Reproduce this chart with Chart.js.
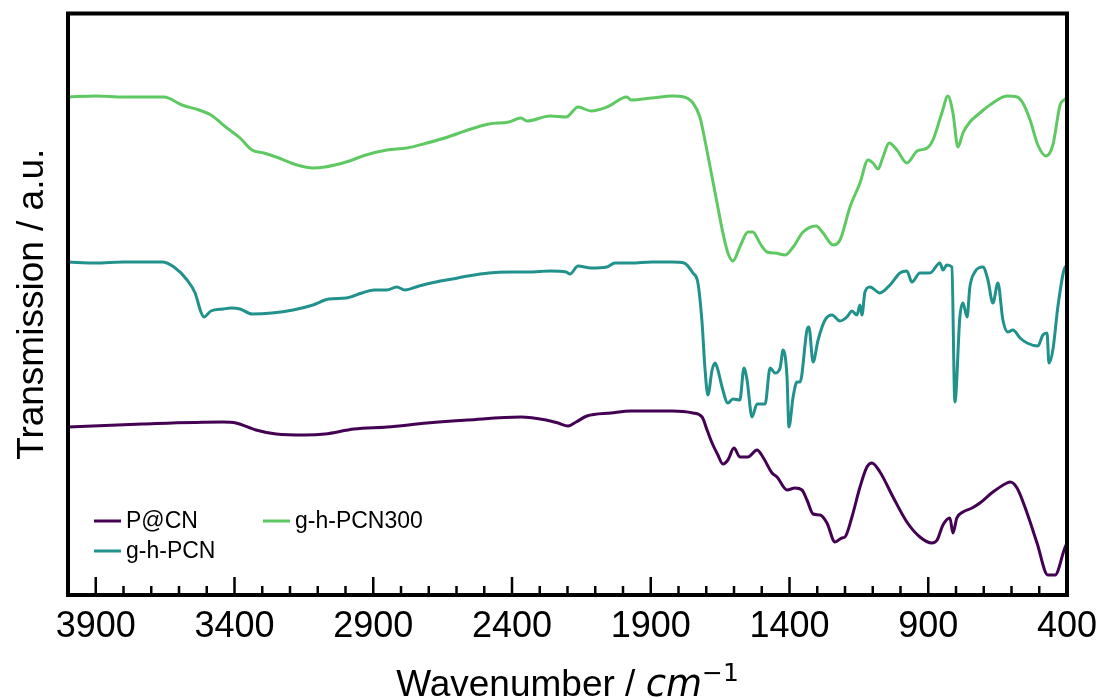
<!DOCTYPE html>
<html>
<head>
<meta charset="utf-8">
<script src="https://cdn.jsdelivr.net/npm/chart.js@4.4.1/dist/chart.umd.min.js"></script>
<style>
html, body { margin: 0; padding: 0; background: #fff; }
</style>
</head>
<body>
<canvas id="ftirChart" width="1101" height="698"></canvas>
<script>
// FTIR spectra, wavenumber (cm-1) vs transmission (a.u., offset per sample)
const seriesNames = ['P@CN', 'g-h-PCN', 'g-h-PCN300'];
const seriesColors = ['#440154', '#21918c', '#5ec962'];

const wnPCN = [4000,3733,3441,3395,3323,3250,3146,3074,2969,2850,2706,2559,2368,2277,2234,2198,2169,2130,2043,1971,1823,1748,1715,1697,1679,1658,1640,1622,1600,1579,1550,1517,1496,1463,1445,1409,1380,1355,1337,1315,1290,1265,1236,1211,1200,1175,1146,1121,1103,1074,1027,977,930,887,868,847,822,811,797,775,742,714,667,616,605,580,544,508,469,443,408,400];
const trPCN = [16.8,17.1,17.3,17.2,16.5,16.1,16.0,16.1,16.6,16.8,17.2,17.5,17.8,17.5,17.2,16.9,17.3,17.9,18.2,18.4,18.4,18.2,17.8,16.5,15.2,14.0,13.1,13.5,14.7,13.8,13.8,14.5,13.8,12.2,11.8,10.5,10.7,10.5,9.5,8.1,8.0,7.2,5.3,5.7,5.8,7.8,10.8,12.8,13.2,12.3,9.8,7.3,5.8,5.2,5.5,7.0,7.7,6.2,7.7,8.3,8.7,9.2,10.3,11.2,11.3,10.7,8.2,5.2,2.0,2.0,4.7,5.2];

const wnGhPCN = [4000,3900,3800,3661,3618,3571,3542,3521,3510,3485,3441,3413,3380,3337,3265,3189,3117,3060,2998,2941,2897,2851,2815,2786,2735,2674,2616,2559,2483,2411,2339,2263,2205,2191,2162,2115,2058,2029,1971,1896,1823,1780,1748,1730,1715,1705,1694,1679,1668,1658,1643,1622,1604,1579,1564,1553,1535,1517,1488,1470,1452,1434,1423,1409,1402,1387,1373,1362,1337,1330,1315,1297,1272,1247,1218,1193,1175,1157,1146,1139,1128,1110,1074,1038,1002,977,959,930,894,858,847,833,815,804,786,775,760,750,732,703,685,667,649,631,613,595,569,544,505,487,472,465,451,433,411,400];
const trGhPCN = [33.3,33.2,33.3,33.3,32.8,31.5,30.2,28.3,27.8,28.4,28.6,28.7,28.6,28.1,28.2,28.5,29.0,29.6,29.7,30.2,30.5,30.5,30.8,30.5,30.9,31.3,31.6,31.9,32.2,32.3,32.3,32.4,32.3,32.1,32.9,32.7,32.8,33.2,33.2,33.3,33.3,33.2,32.2,31.2,27.2,22.8,20.0,22.5,23.2,22.5,20.8,19.2,19.6,19.5,22.7,21.5,17.8,19.1,19.1,22.7,22.2,22.7,24.5,21.8,16.8,19.8,21.3,21.3,26.5,26.8,23.3,25.5,27.5,28.0,27.4,27.8,28.4,28.0,29.0,28.0,30.3,30.8,30.2,31.0,32.2,32.4,31.3,32.2,32.2,33.2,32.5,33.0,32.8,19.3,27.8,29.2,27.8,30.8,32.3,32.8,31.5,29.2,31.2,27.5,26.3,26.5,25.7,25.2,24.9,26.0,26.2,23.2,24.5,28.8,32.5,33.0];

const wnGh300 = [4000,3900,3800,3654,3589,3528,3485,3427,3380,3337,3294,3250,3175,3117,3074,2998,2926,2851,2779,2706,2631,2559,2483,2411,2368,2346,2263,2205,2162,2115,2058,1986,1971,1896,1823,1780,1748,1723,1705,1686,1661,1640,1622,1604,1579,1550,1532,1507,1481,1452,1416,1387,1351,1304,1279,1243,1218,1182,1146,1117,1099,1081,1063,1041,1013,977,940,904,883,851,829,811,793,775,750,714,678,616,580,559,533,505,476,451,425,411,400];
const trGh300 = [49.8,49.9,49.8,49.8,49.0,48.5,48.0,46.7,45.7,44.5,44.2,43.8,43.0,42.7,42.8,43.3,44.0,44.5,44.7,45.2,45.8,46.5,47.1,47.3,47.7,47.4,47.9,47.8,48.8,48.4,48.8,49.8,49.5,49.7,49.9,49.8,49.2,47.8,45.5,42.8,39.2,36.2,34.2,33.4,34.8,36.3,36.3,35.2,34.3,34.2,34.0,34.8,36.3,36.9,36.2,35.0,35.5,38.8,41.2,43.5,43.2,42.6,43.8,45.2,44.5,43.2,44.4,44.7,45.5,48.2,49.9,48.2,44.8,46.2,47.3,48.2,49.0,49.9,49.8,49.2,47.5,45.0,43.9,45.0,49.0,49.5,49.7];

const xTicks = [3900, 3400, 2900, 2400, 1900, 1400, 900, 400];

const toPoints = (wn, tr) => wn.map((w, i) => ({ x: w, y: tr[i] }));

// inward ticks, box frame, x title with math part, legend inside the axes
const framePlugin = {
    id: 'frame',
    afterDraw(chart) {
        const ctx = chart.ctx;
        const a = chart.chartArea;
        const x = chart.scales.x;
        ctx.save();
        ctx.strokeStyle = '#000';
        ctx.lineWidth = 2.5;
        for (let v = 400; v <= 4000; v += 100) {
            const px = x.getPixelForValue(v);
            const len = (v - 400) % 500 === 0 ? 18 : 9;
            ctx.beginPath();
            ctx.moveTo(px, a.bottom);
            ctx.lineTo(px, a.bottom - len);
            ctx.stroke();
        }
        ctx.lineWidth = 4;
        ctx.strokeRect(a.left, a.top, a.right - a.left, a.bottom - a.top);

        // x axis title: Wavenumber / cm^-1
        const parts = [
            { t: 'Wavenumber / ', f: '37px "Liberation Sans"', dy: 0 },
            { t: 'cm', f: 'italic 37px "DejaVu Sans"', dy: 0 },
            { t: '\u22121', f: '25px "DejaVu Sans"', dy: -15 }
        ];
        let total = 0;
        parts.forEach(p => { ctx.font = p.f; p.w = ctx.measureText(p.t).width; total += p.w; });
        let cx = (a.left + a.right) / 2 - total / 2;
        ctx.fillStyle = '#000';
        ctx.textBaseline = 'alphabetic';
        ctx.textAlign = 'left';
        parts.forEach(p => {
            ctx.font = p.f;
            ctx.fillText(p.t, cx, 696 + p.dy);
            cx += p.w;
        });

        // legend, two columns
        const slots = [
            { ds: 0, x: 94, y: 521 },
            { ds: 2, x: 263, y: 521 },
            { ds: 1, x: 94, y: 551 }
        ];
        ctx.font = '23px "Liberation Sans"';
        ctx.textBaseline = 'middle';
        slots.forEach(s => {
            const ds = chart.data.datasets[s.ds];
            ctx.strokeStyle = ds.borderColor;
            ctx.lineWidth = 3;
            ctx.beginPath();
            ctx.moveTo(s.x, s.y);
            ctx.lineTo(s.x + 27, s.y);
            ctx.stroke();
            ctx.fillStyle = '#000';
            ctx.fillText(ds.label, s.x + 32, s.y + 1);
        });
        ctx.restore();
    }
};

const data = {
    datasets: [
        { label: seriesNames[0], data: toPoints(wnPCN, trPCN), borderColor: seriesColors[0] },
        { label: seriesNames[1], data: toPoints(wnGhPCN, trGhPCN), borderColor: seriesColors[1] },
        { label: seriesNames[2], data: toPoints(wnGh300, trGh300), borderColor: seriesColors[2] }
    ]
};

const config = {
    type: 'line',
    data: data,
    options: {
        responsive: false,
        animation: false,
        layout: { padding: { top: 13.5, right: 34, left: 0, bottom: 0 } },
        elements: {
            point: { radius: 0 },
            line: { borderWidth: 3, cubicInterpolationMode: 'monotone', fill: false }
        },
        plugins: { legend: { display: false }, tooltip: { enabled: false } },
        scales: {
            x: {
                type: 'linear',
                reverse: true,
                min: 400,
                max: 4000,
                afterFit: s => { s.height = 103; s.paddingLeft = 0; s.paddingRight = 0; },
                afterBuildTicks: s => { s.ticks = xTicks.map(v => ({ value: v })); },
                grid: { display: false, drawTicks: false },
                border: { display: false },
                ticks: {
                    autoSkip: false,
                    maxRotation: 0,
                    padding: 10,
                    color: '#000',
                    font: { family: 'Liberation Sans', size: 36 },
                    callback: v => String(v)
                }
            },
            y: {
                min: 0,
                max: 58.15,
                afterFit: s => { s.width = 68; },
                ticks: { display: false },
                grid: { display: false, drawTicks: false },
                border: { display: false },
                title: {
                    display: true,
                    text: 'Transmission / a.u.',
                    color: '#000',
                    font: { family: 'Liberation Sans', size: 37 },
                    padding: { top: 11, bottom: 0 }
                }
            }
        }
    },
    plugins: [framePlugin]
};

const ctx = document.getElementById('ftirChart').getContext('2d');
const ftirChart = new Chart(ctx, config);
</script>
</body>
</html>
